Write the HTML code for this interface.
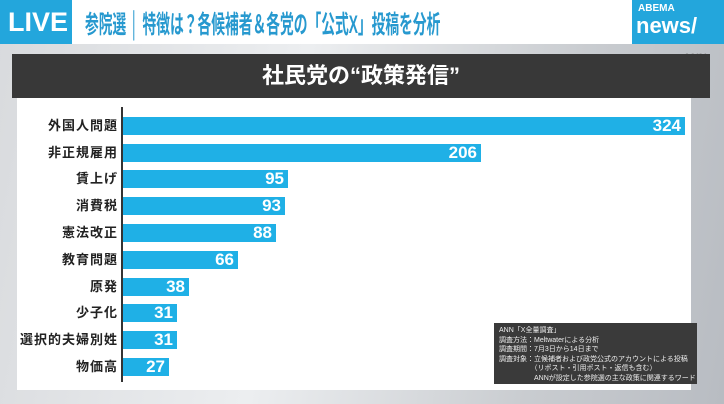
<!DOCTYPE html>
<html><head><meta charset="utf-8"><style>
body{margin:0;width:724px;height:404px;overflow:hidden;font-family:"Liberation Sans","Noto Sans CJK JP",sans-serif;background:linear-gradient(100deg,#d8dadd 0%,#eceef0 40%,#c9ccd0 75%,#b8bcc2 100%);position:relative}
.top{position:absolute;left:0;top:0;width:724px;height:44px;background:#fff}
.live{position:absolute;left:0;top:0;width:72px;height:44px;background:#23a6dc;color:#fff;font-weight:bold;font-size:27px;line-height:44px;text-align:right;padding-right:4px;box-sizing:border-box}
.head{position:absolute;left:85px;top:5px;font-size:25px;color:#2799cf;font-weight:bold;white-space:nowrap;transform:scaleX(0.55);transform-origin:0 0}
.abema{position:absolute;left:632px;top:0;width:92px;height:44px;background:#23a6dc;color:#fff}
.title{position:absolute;left:12px;top:54px;width:698px;height:44px;background:#383838;color:#fff;font-size:22px;font-weight:bold;text-align:center;line-height:44px}
.panel{position:absolute;left:17px;top:98px;width:674px;height:292px;background:#fff}
.axis{position:absolute;left:121px;top:107px;width:2px;height:275px;background:#333}
.lab{position:absolute;right:606px;font-size:13px;font-weight:bold;color:#222;letter-spacing:1px;line-height:18px;white-space:nowrap}
.bar{position:absolute;left:123px;height:18px;background:#1fb0e6;color:#fff;font-weight:bold;font-size:17px;line-height:18px;text-align:right;box-sizing:border-box;padding-right:4px}
.info{position:absolute;left:494px;top:323px;width:203px;height:61px;background:#3a3a3a;color:#eee;font-size:7px;line-height:9.5px;padding:3px 5px;box-sizing:border-box;white-space:nowrap}
</style></head><body>
<div class="top"></div>
<div class="live">LIVE</div>
<div class="head">参院選 │ 特徴は？各候補者＆各党の「公式X」投稿を分析</div>
<div class="abema"><div style="font-size:10px;font-weight:bold;position:absolute;left:6px;top:3px">ABEMA</div><div style="font-size:22px;font-weight:bold;position:absolute;left:4px;top:13px">news/</div></div>
<div style="position:absolute;left:683px;top:52px;font-size:11px;color:#888;font-weight:bold">ANN</div>
<div class="title">社民党の“政策発信”</div>
<div class="panel"></div>
<div class="axis"></div>

<div class="lab" style="top:117px">外国人問題</div><div class="bar" style="top:117px;width:562px">324</div>
<div class="lab" style="top:144px">非正規雇用</div><div class="bar" style="top:144px;width:358px">206</div>
<div class="lab" style="top:170px">賃上げ</div><div class="bar" style="top:170px;width:165px">95</div>
<div class="lab" style="top:197px">消費税</div><div class="bar" style="top:197px;width:162px">93</div>
<div class="lab" style="top:224px">憲法改正</div><div class="bar" style="top:224px;width:153px">88</div>
<div class="lab" style="top:251px">教育問題</div><div class="bar" style="top:251px;width:115px">66</div>
<div class="lab" style="top:278px">原発</div><div class="bar" style="top:278px;width:66px">38</div>
<div class="lab" style="top:304px">少子化</div><div class="bar" style="top:304px;width:54px">31</div>
<div class="lab" style="top:331px">選択的夫婦別姓</div><div class="bar" style="top:331px;width:54px">31</div>
<div class="lab" style="top:358px">物価高</div><div class="bar" style="top:358px;width:46px">27</div>

<div class="info">ANN「X全量調査」<br>調査方法：Meltwaterによる分析<br>調査期間：7月3日から14日まで<br>調査対象：立候補者および政党公式のアカウントによる投稿<br>　　　　　（リポスト・引用ポスト・返信も含む）<br>　　　　　ANNが設定した参院選の主な政策に関連するワード</div>
</body></html>
